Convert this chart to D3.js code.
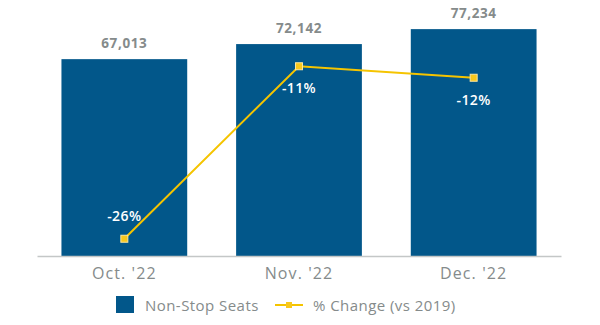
<!DOCTYPE html>
<html>
<head>
<meta charset="utf-8">
<script src="https://cdn.jsdelivr.net/npm/d3@7"></script>
<style>
  html, body { margin: 0; padding: 0; background: #fff; }
  svg { display: block; font-family: "Open Sans", sans-serif; }
</style>
</head>
<body>
<svg id="chart" width="600" height="325"></svg>
<script>
// monthly non-stop seats and change vs 2019
const months = ["Oct. '22", "Nov. '22", "Dec. '22"];
const seats = [67013, 72142, 77234];
const pctChange = [-26, -11, -12];
const seriesNames = ['Non-Stop Seats', '% Change (vs 2019)'];

const color = {
  bar: '#02578a',
  line: '#f5c400',
  marker: '#f8c81c',
  grey: '#858b8b',
  axis: '#c4c7c7',
};

const svg = d3.select('#chart');
const baseline = 256;

const x = d3.scaleBand().domain(months).range([37, 561]).paddingInner(0.28).paddingOuter(0.14);
const y = d3.scaleLinear().domain([0, 80000]).range([baseline, 21]);
// percent axis is hidden, only positions the line
const y2 = d3.scaleLinear().domain([-27.5, -5]).range([baseline, -2.75]);

// bars
svg.append('g')
  .selectAll('rect')
  .data(seats)
  .join('rect')
  .attr('x', (d, i) => x(months[i]))
  .attr('y', (d) => y(d))
  .attr('width', x.bandwidth())
  .attr('height', (d) => y(0) - y(d))
  .attr('fill', color.bar);

// value labels
svg.append('g')
  .selectAll('text')
  .data(seats)
  .join('text')
  .attr('x', (d, i) => x(months[i]) + x.bandwidth() / 2)
  .attr('y', (d) => y(d) - 11)
  .attr('text-anchor', 'middle')
  .attr('font-size', 13.5)
  .attr('font-weight', 700)
  .attr('letter-spacing', 0.6)
  .attr('fill', color.grey)
  .text((d) => d3.format(',')(d));

// x axis
const xAxis = svg.append('g')
  .attr('transform', `translate(0, ${baseline})`)
  .call(d3.axisBottom(x).tickSize(0).tickPadding(12));
xAxis.select('.domain').attr('stroke', color.axis).attr('stroke-width', 1.5);
xAxis.selectAll('text')
  .attr('font-family', '"Open Sans", sans-serif')
  .attr('font-size', 16)
  .attr('letter-spacing', 1.1)
  .attr('fill', color.grey);

// change line
const cx = (i) => x(months[i]) + x.bandwidth() / 2;
const line = d3.line().x((d, i) => cx(i)).y((d) => y2(d));

svg.append('path')
  .datum(pctChange)
  .attr('d', line)
  .attr('fill', 'none')
  .attr('stroke', color.line)
  .attr('stroke-width', 2);

svg.append('g')
  .selectAll('rect')
  .data(pctChange)
  .join('rect')
  .attr('x', (d, i) => cx(i) - 3.5)
  .attr('y', (d) => y2(d) - 3.5)
  .attr('width', 7)
  .attr('height', 7)
  .attr('fill', color.marker)
  .attr('stroke', '#fbe6a0')
  .attr('stroke-width', 1);

// percent labels: lowest point gets its label above, others below
svg.append('g')
  .selectAll('text')
  .data(pctChange)
  .join('text')
  .attr('x', (d, i) => cx(i))
  .attr('y', (d) => (d === d3.min(pctChange) ? y2(d) - 18 : y2(d) + 27))
  .attr('text-anchor', 'middle')
  .attr('font-size', 14)
  .attr('font-weight', 600)
  .attr('letter-spacing', 0.4)
  .attr('fill', '#fff')
  .text((d) => `${d}%`);

// legend
const legend = svg.append('g').attr('transform', 'translate(116, 296)');
legend.append('rect').attr('width', 18).attr('height', 17).attr('fill', color.bar);
legend.append('text')
  .attr('x', 29).attr('y', 14.5)
  .attr('font-size', 15).attr('letter-spacing', 0.45).attr('fill', color.grey)
  .text(seriesNames[0]);

const lg2 = legend.append('g').attr('transform', 'translate(159, 9)');
lg2.append('line').attr('x1', 0).attr('x2', 28).attr('stroke', color.line).attr('stroke-width', 2);
lg2.append('rect').attr('x', 11).attr('y', -3).attr('width', 6).attr('height', 6).attr('fill', color.marker);
lg2.append('text')
  .attr('x', 38).attr('y', 5.5)
  .attr('font-size', 15).attr('letter-spacing', 0.45).attr('fill', color.grey)
  .text(seriesNames[1]);
</script>
</body>
</html>
